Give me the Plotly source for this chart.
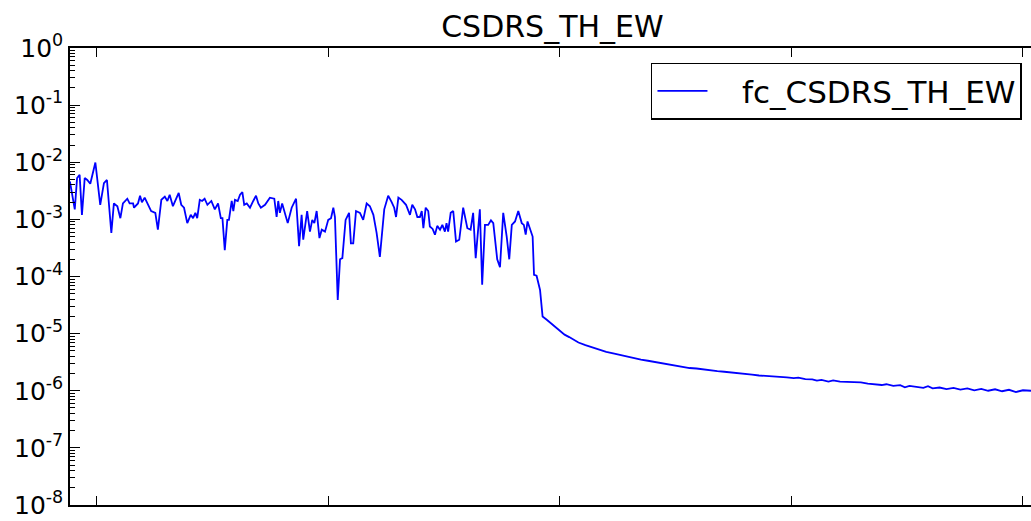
import plotly.graph_objects as go

# ---- data ----
x_head = [88.3, 90.4, 91.4, 92.5, 93.5, 94.7, 95.8, 97.1, 99.3, 101.4, 103.0, 104.3, 106.2, 107.3, 108.8,
          110.1, 111.2, 113.1, 114.1, 115.6, 116.0, 117.7, 118.6, 119.4, 120.6, 122.0, 123.4, 125.2, 126.3,
          127.8, 129.3, 130.4, 131.4, 132.8, 133.8, 135.3, 136.4, 137.6, 139.0, 140.5, 141.5, 142.5, 143.3,
          144.4, 145.4, 146.5, 147.7, 149.4, 150.9, 152.3, 153.5, 154.2, 155.2, 156.3, 157.0, 158.2, 158.9,
          159.6, 160.8, 161.8, 162.8, 163.6, 164.7, 166.1, 167.5, 168.7, 169.7, 170.8, 172.6, 174.7, 176.6,
          177.6, 178.3, 179.0, 180.0, 181.2, 182.4, 184.1, 186.0, 187.3, 188.4, 189.1, 190.8, 192.0, 193.0,
          193.9, 194.9, 196.1, 197.1, 198.5, 199.9, 201.1, 202.1, 202.8, 204.0, 205.0, 206.0, 207.4, 208.9,
          209.7, 210.7, 211.9, 213.6, 215.0, 216.5, 217.9, 219.4, 220.8, 222.2, 224.1, 225.8, 227.3, 228.4,
          229.2, 230.2, 231.6, 233.5, 235.2, 236.2, 237.4, 238.4, 239.5, 240.3, 241.0, 242.0, 243.1, 243.8,
          245.0, 246.0, 247.0, 248.2, 249.2, 250.3, 251.0, 251.7, 252.8, 253.9, 255.1, 256.5, 258.2, 260.0,
          261.4, 262.5, 263.6, 265.4, 266.4, 267.6, 269.0, 270.2, 271.2, 272.9, 274.1, 275.5, 277.0, 278.1,
          279.2, 280.6, 282.0, 283.5, 284.4, 285.2, 286.0, 287.3, 288.2, 288.8, 289.9, 291.4, 292.5, 294.3,
          297.8]
y_head = [4.6e-3, 1.5e-3, 5.3e-3, 6.0e-3, 1.2e-3, 5.3e-3, 4.9e-3, 4.2e-3, 9.9e-3, 1.8e-3, 4.3e-3, 4.9e-3,
          5.8e-4, 1.9e-3, 1.7e-3, 1.05e-3, 1.9e-3, 2.3e-3, 1.9e-3, 1.9e-3, 1.6e-3, 1.9e-3, 2.6e-3, 2.0e-3,
          2.4e-3, 1.8e-3, 1.4e-3, 1.3e-3, 6.6e-4, 2.2e-3, 2.5e-3, 2.1e-3, 2.7e-3, 1.7e-3, 2.1e-3, 2.9e-3,
          1.8e-3, 1.6e-3, 8.6e-4, 1.2e-3, 1.05e-3, 1.3e-3, 1.05e-3, 2.2e-3, 2.1e-3, 2.3e-3, 1.8e-3, 2.1e-3,
          1.5e-3, 1.9e-3, 1.05e-3, 1.05e-3, 2.9e-4, 9.8e-4, 9.8e-4, 2.1e-3, 1.4e-3, 2.2e-3, 2.1e-3, 2.7e-3,
          3.0e-3, 1.8e-3, 1.9e-3, 1.6e-3, 2.1e-3, 2.6e-3, 1.9e-3, 1.6e-3, 1.8e-3, 2.4e-3, 2.3e-3, 1.1e-3,
          2.1e-3, 1.3e-3, 1.9e-3, 1.3e-3, 8.6e-4, 1.6e-3, 2.3e-3, 3.4e-4, 1.2e-3, 4.4e-4, 1.4e-3, 6.1e-4,
          9.8e-4, 8.6e-4, 1.4e-3, 4.7e-4, 6.6e-4, 6.1e-4, 9.8e-4, 1.05e-3, 1.6e-3, 1.1e-3, 3.9e-5, 2.0e-4,
          2.1e-4, 9.8e-4, 1.3e-3, 3.8e-4, 3.8e-4, 1.4e-3, 1.3e-3, 9.8e-4, 1.9e-3, 1.7e-3, 1.2e-3, 5.8e-4,
          2.2e-4, 1.5e-3, 2.6e-3, 2.0e-3, 1.6e-3, 1.1e-3, 2.4e-3, 2.2e-3, 1.8e-3, 1.2e-3, 1.8e-3, 1.5e-3,
          1.1e-3, 1.1e-3, 1.4e-3, 7.0e-4, 1.6e-3, 1.4e-3, 7.5e-4, 6.8e-4, 5.4e-4, 7.7e-4, 6.6e-4, 8.0e-4,
          6.1e-4, 8.6e-4, 6.1e-4, 1.3e-3, 1.4e-3, 4.1e-4, 4.4e-4, 1.6e-3, 7.0e-4, 6.6e-4, 1.3e-3, 2.1e-4,
          1.5e-3, 7.2e-5, 8.0e-4, 8.0e-4, 9.6e-4, 8.6e-4, 2.0e-4, 1.46e-4, 1.3e-3, 5.0e-4, 2.0e-4, 8.0e-4,
          9.2e-4, 1.4e-3, 8.6e-4, 8.0e-4, 5.4e-4, 9.2e-4, 6.6e-4, 5.0e-4, 1.07e-4, 1.03e-4, 5.8e-5, 2.0e-5,
          1.75e-5, 1.33e-5]

x_tail = [300, 302, 304, 306, 308, 311, 314, 317, 320, 323, 326, 329, 332, 335, 338, 341, 344, 347, 350,
          353, 356, 359, 362, 365, 368, 371, 374, 377, 380, 383, 386, 389, 392, 395, 398, 401, 403, 406,
          409, 411, 413, 416, 418, 421, 424, 427, 430, 433, 436, 439, 441, 444, 447, 449, 451, 454, 457,
          459, 461, 464, 467, 470, 473, 476, 479, 482, 485, 488, 491, 494, 497, 500, 503.5]
y_tail = [1.09e-5, 9.6e-6, 8.7e-6, 7.8e-6, 7.0e-6, 6.3e-6, 5.7e-6, 5.2e-6, 4.8e-6, 4.5e-6, 4.2e-6, 3.9e-6,
          3.7e-6, 3.5e-6, 3.35e-6, 3.2e-6, 3.0e-6, 2.9e-6, 2.75e-6, 2.6e-6, 2.5e-6, 2.45e-6, 2.35e-6,
          2.3e-6, 2.2e-6, 2.15e-6, 2.1e-6, 2.05e-6, 1.95e-6, 1.92e-6, 1.85e-6, 1.83e-6, 1.78e-6, 1.76e-6,
          1.72e-6, 1.66e-6, 1.7e-6, 1.6e-6, 1.58e-6, 1.5e-6, 1.55e-6, 1.45e-6, 1.52e-6, 1.44e-6, 1.42e-6,
          1.38e-6, 1.4e-6, 1.33e-6, 1.3e-6, 1.26e-6, 1.3e-6, 1.22e-6, 1.25e-6, 1.15e-6, 1.22e-6, 1.18e-6,
          1.12e-6, 1.2e-6, 1.1e-6, 1.14e-6, 1.07e-6, 1.12e-6, 1.05e-6, 1.1e-6, 1.02e-6, 1.08e-6, 1.0e-6,
          1.06e-6, 0.98e-6, 1.04e-6, 0.95e-6, 1.02e-6, 1.0e-6]

assert len(x_head) == len(y_head), (len(x_head), len(y_head))
assert len(x_tail) == len(y_tail), (len(x_tail), len(y_tail))

series_name = "fc_CSDRS_TH_EW"
title_text = "CSDRS_TH_EW"
x_ticks = [100, 200, 300, 400, 500]
y_ticks = [1e-8, 1e-7, 1e-6, 1e-5, 1e-4, 1e-3, 1e-2, 1e-1, 1e0]
y_ticktext = ["10<sup>-8</sup>", "10<sup>-7</sup>", "10<sup>-6</sup>", "10<sup>-5</sup>", "10<sup>-4</sup>",
              "10<sup>-3</sup>", "10<sup>-2</sup>", "10<sup>-1</sup>", "10<sup>0</sup>"]

x = x_head + x_tail
y = y_head + y_tail

minor_vals = [m * 10.0 ** e for e in range(-8, 0) for m in range(2, 10)]

fig = go.Figure()
fig.add_trace(go.Scatter(x=x, y=y, mode="lines",
                         name="\u00a0\u00a0\u00a0" + series_name,
                         line=dict(color="#0000ff", width=1.8)))

fig.update_layout(
    width=1031, height=521,
    margin=dict(l=70, r=0, t=48, b=16),
    paper_bgcolor="white", plot_bgcolor="white",
    font=dict(family="DejaVu Sans", color="black"),
    title=dict(text=title_text, font=dict(size=30, color="black"),
               x=0.502, xref="paper", xanchor="center",
               y=1 - 26 / 521, yref="container", yanchor="middle"),
    showlegend=True,
    legend=dict(x=0.9906, y=0.9678, xanchor="right", yanchor="top",
                bordercolor="black", borderwidth=1.5, bgcolor="white",
                itemwidth=50,
                font=dict(size=31, color="black")),
    xaxis=dict(range=[88.34, 503.5], showgrid=False, zeroline=False,
               showline=True, linecolor="black", linewidth=1.5, mirror="ticks",
               ticks="inside", ticklen=9, tickwidth=1, tickcolor="black",
               tickvals=x_ticks, showticklabels=False),
    yaxis=dict(type="log", range=[-8, 0], showgrid=False, zeroline=False,
               showline=True, linecolor="black", linewidth=1.5,
               ticks="inside", ticklen=10, tickwidth=1, tickcolor="black",
               tickvals=y_ticks, ticktext=y_ticktext,
               tickfont=dict(size=25, color="black"),
               minor=dict(ticks="inside", ticklen=5, tickwidth=1, tickcolor="black",
                          tickvals=minor_vals, showgrid=False)),
    yaxis2=dict(type="log", range=[-8, 0], overlaying="y", side="right", anchor="x",
                showgrid=False, zeroline=False, showline=False,
                ticks="inside", ticklen=3, tickwidth=1, tickcolor="black",
                tickvals=y_ticks, showticklabels=False),
)

fig.write_html("out.html")
